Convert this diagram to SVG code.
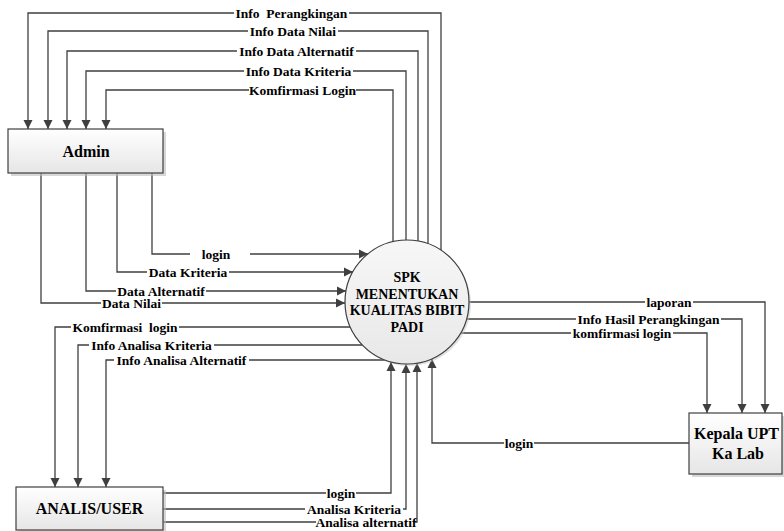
<svg xmlns="http://www.w3.org/2000/svg" width="784" height="531" viewBox="0 0 784 531">
<defs>
<linearGradient id="boxGrad" x1="0" y1="0" x2="0" y2="1">
<stop offset="0" stop-color="#ffffff"/>
<stop offset="1" stop-color="#e6e6e6"/>
</linearGradient>
<linearGradient id="circGrad" x1="0" y1="0" x2="0" y2="1">
<stop offset="0" stop-color="#f7f7f7"/>
<stop offset="1" stop-color="#e8e8e8"/>
</linearGradient>
<marker id="arr" markerUnits="userSpaceOnUse" markerWidth="10" markerHeight="10" refX="9" refY="5" orient="auto">
<path d="M0,0.5 L9,5 L0,9.5 z" fill="#3f3f3f"/>
</marker>
<style>
.c{fill:none;stroke:#3f3f3f;stroke-width:1.3;marker-end:url(#arr)}
.bg{fill:#ffffff}
.lb{font-family:"Liberation Serif","Times New Roman",serif;font-weight:bold;font-size:13.5px;fill:#000;text-anchor:middle;white-space:pre}
.nt{font-family:"Liberation Serif","Times New Roman",serif;font-weight:bold;font-size:16px;fill:#000;text-anchor:middle}
.ct{font-family:"Liberation Serif","Times New Roman",serif;font-weight:bold;font-size:14px;fill:#000;text-anchor:middle}
.box{fill:url(#boxGrad);stroke:#3f3f3f;stroke-width:1.2}
.sh{fill:#bdbdbd;opacity:0.6}
</style>
</defs>
<g id="connectors">
<path class="c" d="M441,250 V13 H28 V129"/>
<path class="c" d="M428,244 V31 H48 V129"/>
<path class="c" d="M418,241 V51 H67 V129"/>
<path class="c" d="M406,240 V71 H86 V129"/>
<path class="c" d="M393,242 V90 H106 V129"/>
<path class="c" d="M152,173 V254 H368"/>
<path class="c" d="M117,173 V272 H353"/>
<path class="c" d="M86,173 V291 H346"/>
<path class="c" d="M41,173 V303 H345"/>
<path class="c" d="M350,327 H55 V487"/>
<path class="c" d="M362,345 H78 V487"/>
<path class="c" d="M385,360 H106 V487"/>
<path class="c" d="M163,493 H391 V362"/>
<path class="c" d="M163,509 H406 V364"/>
<path class="c" d="M163,522 H417 V363"/>
<path class="c" d="M469,302 H765 V413"/>
<path class="c" d="M467,319 H742 V413"/>
<path class="c" d="M461,333 H707 V413"/>
<path class="c" d="M689,443 H432 V359"/>
</g>
<g id="labels">
<rect class="bg" x="234" y="7" width="115" height="13"/>
<text class="lb" x="291.5" y="17.5">Info  Perangkingan</text>
<rect class="bg" x="248" y="25" width="90" height="13"/>
<text class="lb" x="293" y="35.5">Info Data Nilai</text>
<rect class="bg" x="237" y="45" width="119" height="13"/>
<text class="lb" x="296.5" y="55.5">Info Data Alternatif</text>
<rect class="bg" x="244" y="65" width="109" height="13"/>
<text class="lb" x="298.5" y="75.5">Info Data Kriteria</text>
<rect class="bg" x="249" y="84" width="107" height="13"/>
<text class="lb" x="302.5" y="94.5">Komfirmasi Login</text>
<rect class="bg" x="190" y="248" width="60" height="13"/>
<text class="lb" x="216" y="258.5">login</text>
<rect class="bg" x="147" y="266" width="82" height="13"/>
<text class="lb" x="188" y="276.5">Data Kriteria</text>
<rect class="bg" x="116" y="285" width="90" height="12"/>
<text class="lb" x="161" y="295.5">Data Alternatif</text>
<rect class="bg" x="101" y="296.5" width="61" height="13"/>
<text class="lb" x="131.5" y="307.5">Data Nilai</text>
<rect class="bg" x="71" y="321" width="108" height="13"/>
<text class="lb" x="125" y="331.5">Komfirmasi  login</text>
<rect class="bg" x="89" y="339" width="125" height="12"/>
<text class="lb" x="151.5" y="349.5">Info Analisa Kriteria</text>
<rect class="bg" x="114" y="353.5" width="135" height="13"/>
<text class="lb" x="181.5" y="364.5">Info Analisa Alternatif</text>
<rect class="bg" x="326" y="487" width="30" height="13"/>
<text class="lb" x="341" y="497.5">login</text>
<rect class="bg" x="305" y="503" width="98" height="12"/>
<text class="lb" x="354" y="513.5">Analisa Kriteria</text>
<rect class="bg" x="316" y="516" width="99" height="13"/>
<text class="lb" x="366" y="526.5">Analisa alternatif</text>
<rect class="bg" x="645" y="296" width="48" height="13"/>
<text class="lb" x="669" y="306.5">laporan</text>
<rect class="bg" x="576" y="313" width="145" height="12"/>
<text class="lb" x="648.5" y="323.5">Info Hasil Perangkingan</text>
<rect class="bg" x="571" y="327" width="102" height="13"/>
<text class="lb" x="622" y="337.5">komfirmasi login</text>
<rect class="bg" x="504" y="437" width="30" height="13"/>
<text class="lb" x="519" y="447.5">login</text>
</g>
<g id="admin">
<rect class="sh" x="11" y="132" width="155" height="44"/>
<rect class="box" x="8" y="129" width="155" height="44"/>
<text class="nt" x="86" y="157">Admin</text>
</g>
<g id="spk">
<circle cx="409" cy="304" r="62" fill="#c4c4c4" opacity="0.5"/>
<circle cx="407" cy="302" r="62" fill="url(#circGrad)" stroke="#3f3f3f" stroke-width="1.2"/>
<text class="ct" x="407" y="282">SPK</text>
<text class="ct" x="407" y="298.5">MENENTUKAN</text>
<text class="ct" x="407" y="315">KUALITAS BIBIT</text>
<text class="ct" x="407" y="331.5">PADI</text>
</g>
<g id="analis">
<rect class="sh" x="19" y="490" width="147" height="43"/>
<rect class="box" x="16" y="487" width="147" height="43"/>
<text class="nt" x="89.5" y="514">ANALIS/USER</text>
</g>
<g id="kepala">
<rect class="sh" x="692" y="416" width="93" height="61"/>
<rect class="box" x="689" y="413" width="93" height="61"/>
<text class="nt" x="736.5" y="439">Kepala UPT</text>
<text class="nt" x="738" y="459">Ka Lab</text>
</g>
</svg>
